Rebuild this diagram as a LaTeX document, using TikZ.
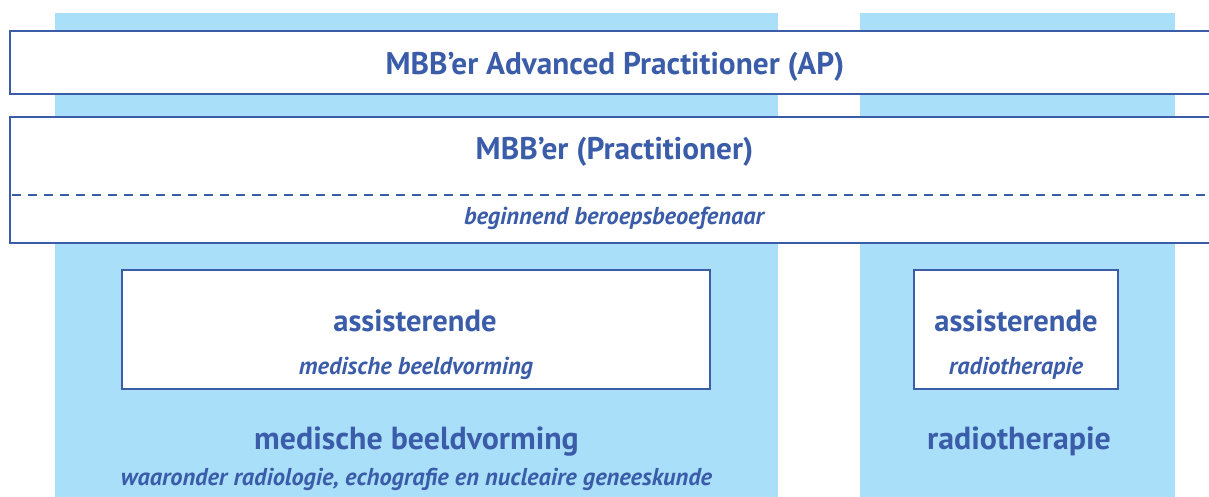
\documentclass[tikz,border=0pt]{standalone}
\usepackage{fontspec}
\setmainfont{PT Sans}
\definecolor{dblue}{HTML}{3A5CA9}
\definecolor{lblue}{HTML}{A9DFF9}
\tikzset{
  col/.style={fill=lblue,draw=none},
  bandline/.style={draw=dblue,line width=2.6pt},
  innerbox/.style={draw=dblue,fill=white,line width=2.2pt},
  lbl/.style={text=dblue,inner sep=0pt,anchor=base,font=\bfseries},
}
\begin{document}
\begin{tikzpicture}[x=1pt,y=-1pt]
\useasboundingbox (0,0) rectangle (1209,497);
% columns
\fill[col] (55,13) rectangle (778,497);
\fill[col] (860,13) rectangle (1175,497);
% AP band
\fill[white] (10,31) rectangle (1209,94);
\draw[bandline] (1209,31) -- (10,31) -- (10,94) -- (1209,94);
% Practitioner band
\fill[white] (10,117) rectangle (1209,243);
\draw[bandline] (1209,117) -- (10,117) -- (10,243) -- (1209,243);
\draw[bandline,line width=2.4pt,dash pattern=on 9pt off 7pt] (12,195) -- (1209,195);
% inner boxes
\draw[innerbox] (122,270) rectangle (710,389);
\draw[innerbox] (914,270) rectangle (1118,389);
% texts
\node[lbl,font=\fontsize{31.3}{36}\selectfont\bfseries] (ap) at (615,75) {MBB’er Advanced Practitioner (AP)};
\node[lbl,font=\fontsize{31.3}{36}\selectfont\bfseries] (pr) at (614.5,160) {MBB’er (Practitioner)};
\node[lbl,font=\fontsize{24.4}{28}\selectfont\bfseries\itshape] (beg) at (614,224) {beginnend beroepsbeoefenaar};
\node[lbl,font=\fontsize{30.6}{34}\selectfont\bfseries] (as1) at (415,331) {assisterende};
\node[lbl,font=\fontsize{24.4}{28}\selectfont\bfseries\itshape] (as1s) at (416,374) {medische beeldvorming};
\node[lbl,font=\fontsize{31.9}{36}\selectfont\bfseries] (mb) at (416.5,449) {medische beeldvorming};
\node[lbl,font=\fontsize{24.4}{28}\selectfont\bfseries\itshape] (mbs) at (416.5,485) {waaronder radiologie, echografie en nucleaire geneeskunde};
\node[lbl,font=\fontsize{30.6}{34}\selectfont\bfseries] (as2) at (1016,331) {assisterende};
\node[lbl,font=\fontsize{24.4}{28}\selectfont\bfseries\itshape] (as2s) at (1016,374) {radiotherapie};
\node[lbl,font=\fontsize{31.9}{36}\selectfont\bfseries] (rt) at (1019,449) {radiotherapie};
\end{tikzpicture}
\end{document}
